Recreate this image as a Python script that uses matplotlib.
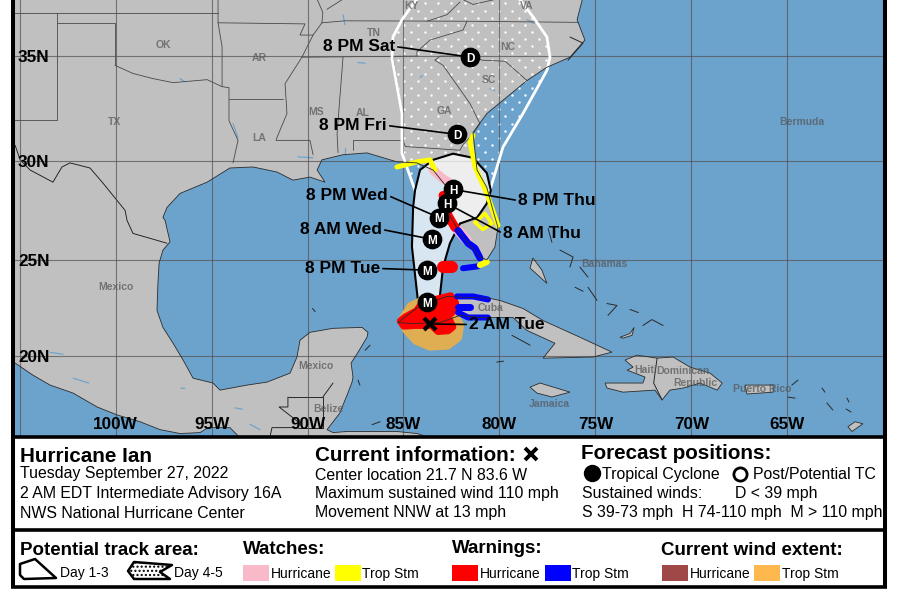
#hurricane forecast cone map with info panel below
import numpy as np
import matplotlib
matplotlib.use('Agg')
import matplotlib.pyplot as plt
from matplotlib.patches import Polygon, Rectangle

plt.rcParams['font.family'] = ['Liberation Sans', 'DejaVu Sans']

# coast outlines, (lon, lat)
mainland = [(-106, 19.3), (-105.23, 19.63), (-104.3, 18.98), (-103.41, 18.45), (-102.21, 18.02), (-100.96, 17.27),
            (-99.92, 16.84), (-98.72, 16.47), (-97.68, 16.04), (-96.64, 15.83), (-95.6, 15.88), (-95.18, 16.15),
            (-94.04, 16.15), (-93.52, 15.6), (-83.62, 15.6), (-84.3, 15.83), (-85.34, 15.94), (-86.59, 15.94),
            (-87.94, 15.94), (-88.67, 15.88), (-88.98, 16.04), (-88.31, 16.95), (-88.15, 17.38), (-87.94, 17.91),
            (-87.68, 18.61), (-87.63, 18.88), (-87.73, 19.63), (-87.37, 20.2), (-86.9, 21.0), (-86.85, 21.26),
            (-87.16, 21.52), (-88.67, 21.47), (-89.87, 21.26), (-90.39, 20.84), (-90.55, 19.95), (-90.91, 19.09),
            (-92.11, 18.61), (-93.15, 18.45), (-94.56, 18.18), (-94.92, 18.56), (-95.96, 18.82), (-96.48, 19.79),
            (-97.0, 20.68), (-97.53, 21.52), (-97.84, 22.41), (-97.79, 23.82), (-97.73, 24.87), (-97.53, 25.53),
            (-97.16, 25.95), (-97.42, 27.04), (-97.53, 27.19), (-97.32, 27.69), (-96.64, 28.39), (-95.23, 28.95),
            (-94.04, 29.65), (-92.84, 29.7), (-91.59, 29.45), (-90.76, 29.05), (-89.87, 29.2), (-89.09, 28.95),
            (-89.5, 29.55), (-89.25, 30.05), (-88.15, 30.3), (-86.9, 30.39), (-85.34, 29.95), (-84.3, 29.9),
            (-83.46, 29.55), (-82.73, 28.69), (-82.58, 28.39), (-82.73, 27.54), (-82.06, 26.38), (-81.02, 25.18),
            (-80.66, 25.03), (-80.24, 25.68), (-80.08, 26.68), (-80.34, 27.54), (-80.66, 28.69), (-81.17, 29.55),
            (-81.38, 31.38), (-80.66, 32.29), (-78.57, 33.86), (-77.53, 34.48), (-76.33, 34.95), (-75.55, 35.74),
            (-75.96, 36.67), (-75.65, 37.7), (-106, 37.7)]
cuba = [(-85.29, 21.77), (-84.14, 22.67), (-82.73, 23.14), (-80.5, 23.04), (-79.97, 22.93), (-78.77, 22.51),
        (-77.73, 21.88), (-75.81, 21.0), (-74.14, 20.21), (-75.13, 19.95), (-77.73, 19.89), (-77.11, 20.68),
        (-78.57, 21.36), (-79.3, 22.04), (-81.02, 22.04), (-82.06, 22.15), (-83.1, 21.77), (-84.5, 21.72)]
hispaniola = [(-73.46, 19.79), (-72.84, 20.05), (-71.79, 19.89), (-70.96, 19.95), (-70.07, 19.41), (-69.03, 19.09),
              (-68.4, 18.56), (-68.66, 18.18), (-69.56, 18.56), (-70.44, 18.29), (-71.12, 18.18), (-71.53, 17.65),
              (-71.9, 18.18), (-73.57, 18.07), (-74.4, 18.29), (-74.5, 18.56), (-73.57, 18.56), (-72.53, 18.56),
              (-72.42, 18.88), (-73.35, 19.25), (-73.04, 19.41)]
jamaica = [(-78.41, 18.34), (-77.89, 18.56), (-76.33, 18.07), (-77.27, 17.81), (-78.05, 18.02)]
puerto_rico = [(-67.21, 18.45), (-65.75, 18.45), (-65.75, 18.07), (-67.11, 17.97)]
andros = [(-78.26, 25.13), (-77.79, 24.5), (-77.53, 23.82), (-78.0, 24.24), (-78.41, 24.61)]
inagua = [(-73.72, 21.0), (-73.2, 21.2), (-72.99, 21.52), (-73.1, 21.1), (-73.57, 20.95)]
guadeloupe = [(-61.85, 16.2), (-61.48, 16.47), (-61.07, 16.36), (-61.64, 15.94)]
land_polys = [mainland, cuba, hispaniola, jamaica, puerto_rico, andros, inagua, guadeloupe]

small_islands = [[(-76.85, 25.53), (-76.17, 25.18), (-76.33, 24.66)], [(-75.81, 24.66), (-75.39, 24.14)],
                 [(-76.07, 23.62), (-75.65, 23.41)], [(-75.39, 23.62), (-74.92, 22.93)],
                 [(-74.4, 22.77), (-73.88, 22.67), (-74.35, 22.15)], [(-73.2, 22.46), (-72.77, 22.3)],
                 [(-72.53, 21.62), (-72.06, 21.93), (-71.48, 21.62)], [(-79.35, 21.1), (-78.41, 20.58)],
                 [(-77.47, 26.63), (-77.27, 25.93)], [(-80.14, 19.68), (-79.79, 19.73)],
                 [(-63.2, 18.29), (-63.05, 18.07)], [(-62.95, 17.49), (-62.64, 17.11)],
                 [(-61.9, 17.75), (-61.8, 17.54)], [(-61.95, 17.16), (-61.69, 17.0)],
                 [(-64.97, 17.8), (-64.6, 17.75)], [(-64.45, 18.72), (-64.77, 18.45)],
                 [(-86.64, 16.31), (-86.22, 16.47)], [(-87.37, 18.72), (-87.27, 18.45)],
                 [(-87.0, 20.31), (-86.74, 20.58)], [(-89.74, 22.51), (-89.6, 22.35)],
                 [(-76.33, 35.88), (-75.65, 35.6), (-76.43, 34.81)]]

# country borders (darker)
country_lines = [[(-105.23, 30.76), (-104.97, 30.05), (-104.45, 29.55), (-103.26, 28.95), (-102.79, 29.7),
                  (-102.37, 29.9), (-101.33, 29.65), (-100.65, 28.9), (-99.5, 27.54), (-99.4, 27.04),
                  (-99.09, 26.38), (-98.2, 26.13), (-97.32, 25.88)],
                 [(-91.02, 17.81), (-91.02, 17.27), (-91.48, 17.27), (-90.49, 16.47), (-90.49, 16.15),
                  (-91.85, 16.15), (-91.95, 15.67)],
                 [(-91.02, 17.81), (-89.2, 17.81), (-89.2, 16.15), (-90.49, 16.15)],
                 [(-89.2, 17.81), (-88.67, 18.56)],
                 [(-71.79, 19.89), (-71.97, 18.56), (-71.53, 17.65)]]

# state borders
state_lines = [[(-105.4, 36.99), (-94.66, 36.99)],
               [(-103.05, 36.99), (-103.05, 36.53), (-100.03, 36.53), (-100.03, 34.57)],
               [(-103.05, 36.53), (-103.05, 32.0), (-105.4, 32.0)],
               [(-100.03, 34.57), (-99.09, 34.19), (-98.05, 33.95), (-97.0, 33.76), (-95.23, 33.9), (-94.45, 33.57),
                (-94.09, 33.52), (-94.09, 31.95), (-93.62, 31), (-93.88, 29.9)],
               [(-94.66, 37.6), (-94.66, 36.53), (-94.45, 35.43), (-94.45, 33.57)],
               [(-94.66, 36.53), (-90.13, 36.48), (-90.39, 35.97), (-89.71, 35.97)],
               [(-89.25, 36.53), (-89.71, 35.97), (-90.29, 34.95), (-91.17, 33.71), (-91.07, 32.29), (-91.59, 31.14),
                (-91.64, 31.0), (-89.87, 31.0), (-89.71, 30.3)],
               [(-94.09, 33.0), (-91.28, 33.0)],
               [(-89.25, 36.53), (-88.05, 36.62), (-81.69, 36.6), (-75.9, 36.55)],
               [(-89.5, 37.6), (-89.2, 37), (-89.25, 36.53)], [(-88.99, 37.14), (-88.15, 37.6)],
               [(-90.29, 34.95), (-84.3, 35.0)],
               [(-81.69, 36.6), (-81.9, 36.2), (-83.62, 35.74), (-84.3, 35.2), (-84.3, 35.0)],
               [(-83.36, 34.81), (-83.1, 35.0), (-81.53, 35.0), (-80.9, 34.81), (-79.7, 34.76), (-78.57, 33.86)],
               [(-83.36, 34.81), (-82.94, 34.57), (-81.53, 32.76), (-81.02, 31.81), (-81.38, 31.33)],
               [(-85.55, 34.95), (-85.03, 32.1), (-85.03, 31), (-84.9, 30.7), (-82.06, 30.52), (-81.9, 30.8),
                (-81.38, 31.29)],
               [(-88.15, 34.95), (-88.46, 31.33), (-88.41, 30.4)],
               [(-87.63, 30.52), (-87.63, 31), (-85.03, 31)],
               [(-83.77, 36.6), (-82.73, 36.9), (-82.06, 37.47)], [(-81.95, 37.6), (-81.38, 37.36), (-79.9, 37.65)]]

# lakes and sounds
lakes = [[(-93.88, 31.81), (-93.62, 31.14)], [(-96.64, 33.95), (-96.4, 33.8)], [(-90.49, 30.2), (-89.71, 30.15)],
         [(-88.05, 30.62), (-88.05, 30.3)], [(-103.41, 20.2), (-102.73, 20.1)], [(-102.2, 18.82), (-101.4, 18.56)],
         [(-96.6, 18.29), (-96.4, 18.27)], [(-93.78, 17.22), (-93.4, 17.15)], [(-93, 16.33), (-92.47, 16.04)],
         [(-84.0, 34.1), (-84.14, 34.0)], [(-80.5, 33.48), (-80.24, 33.38)], [(-87.37, 34.7), (-87.0, 34.67)],
         [(-88.15, 36.9), (-88.05, 36.44)], [(-78.57, 36.67), (-78.2, 36.5)]]

# forecast cone, day 1-3 and outer day 4-5 edge
cone_days_1_3 = [(-84.56, 25.7), (-84.5, 27.69), (-84.4, 28.54), (-84.14, 29.55), (-83.46, 30.05), (-82.42, 30.35),
                 (-81.38, 30.15), (-80.66, 29.4), (-80.45, 28.54), (-80.66, 27.89), (-81.17, 27.18), (-82.06, 26.88),
                 (-82.58, 25.88), (-82.94, 24.66), (-83.1, 23.2), (-83.2, 21.88), (-83.73, 21.72), (-84.25, 22.93)]
cone_arc_top = [(-84.4, 28.54), (-84.14, 29.55), (-83.46, 30.05), (-82.42, 30.35), (-81.38, 30.15), (-80.66, 29.4),
                (-80.45, 28.54)]
cone_days_4_5 = [(-84.4, 28.54), (-85.08, 30.38), (-85.08, 32.29), (-85.6, 34.9), (-85.55, 35.88), (-85.08, 36.67),
                 (-84.5, 37.37), (-84.14, 37.75), (-79.1, 37.75), (-78.25, 36.8), (-77.53, 35.88), (-77.37, 34.95),
                 (-77.53, 34.33), (-78.78, 32.29), (-79.82, 30.67), (-80.5, 28.54)]

# current wind field and warning areas
wind_ts = [(-84.6, 22.6), (-83.88, 22.95), (-82.92, 22.85), (-82.42, 22.35), (-82.1, 21.62), (-82.2, 21.0),
           (-82.72, 20.6), (-83.62, 20.55), (-84.32, 20.85), (-84.82, 21.4), (-85.05, 21.88)]
warn_hu_cuba = [(-85.15, 21.85), (-84.9, 22.05), (-84.3, 22.38), (-84.02, 22.8), (-83.36, 22.96), (-82.55, 23.16),
                (-82.3, 22.8), (-82.45, 22.35), (-82.7, 22.1), (-82.45, 21.55), (-82.68, 21.36), (-83.2, 21.32),
                (-83.52, 21.64), (-84.4, 21.64), (-84.98, 21.6)]
warn_hu_fl = [(-82.94, 28.29), (-82.78, 27.69), (-82.68, 27.29), (-82.32, 26.68)]
warn_hu_tortugas = [(-82.94, 24.66), (-82.47, 24.66)]
watch_hu_north = [(-83.46, 29.55), (-82.99, 29.15), (-82.58, 28.9)]
watch_hu_south = [(-82.16, 26.53), (-81.69, 26.03)]
warn_ts_fl = [(-82.16, 26.53), (-81.64, 25.88), (-81.28, 25.63), (-81.02, 25.13)]
warn_ts_keys = [(-81.9, 24.6), (-81.12, 24.7)]
warn_ts_cuba_n = [(-82.21, 23.14), (-81.38, 23.14), (-80.6, 22.98)]
warn_ts_cuba_m = [(-82.16, 22.6), (-81.53, 22.6)]
warn_ts_cuba_s = [(-82.16, 22.3), (-81.64, 22.04), (-80.6, 22.04)]
watch_ts_keys = [(-81.02, 24.76), (-80.66, 24.92)]
watch_ts_east = [(-81.38, 31.24), (-81.53, 30.9), (-81.27, 29.7), (-80.66, 28.39), (-80.08, 26.78)]
watch_ts_west = [(-85.34, 29.7), (-84.3, 29.95), (-83.62, 30.05), (-83.36, 29.55)]
watch_ts_lake = [(-81.27, 26.93), (-80.76, 27.39), (-80.4, 26.88), (-80.87, 26.58), (-81.27, 26.93)]

# forecast track
track_lon = [-83.76, -83.76, -83.51, -83.15, -82.73, -82.42, -82.21, -81.53]
track_lat = [22.85, 24.5, 26.08, 27.18, 27.89, 28.59, 31.29, 34.95]
track_cat = ['M', 'M', 'M', 'M', 'H', 'H', 'D', 'D']
center_lon = -83.6
center_lat = 21.7

place_names = ['OK', 'AR', 'TX', 'MS', 'AL', 'LA', 'TN', 'NC', 'SC', 'GA', 'KY', 'VA', 'Mexico', 'Mexico', 'Belize',
               'Bermuda', 'Bahamas', 'Cuba', 'Haiti', 'Dominican', 'Republic', 'Puerto Rico', 'Jamaica']
place_lon = [-97.53, -92.53, -100.03, -89.56, -87.11, -92.53, -86.54, -79.55, -80.55, -82.89, -84.56, -78.57, -99.97,
             -89.56, -88.93, -64.24, -74.56, -80.45, -72.37, -70.45, -69.82, -66.33, -77.42]
place_lat = [35.56, 34.95, 31.95, 32.43, 32.38, 31.14, 36.12, 35.47, 33.95, 32.48, 37.33, 37.33, 23.67, 19.52, 17.22,
             31.95, 24.87, 22.57, 19.3, 19.25, 18.61, 18.29, 17.49]

lon_ticks = [-105, -100, -95, -90, -85, -80, -75, -70, -65, -60]
lat_ticks = [20, 25, 30, 35]

LAND = '#c0c0c0'
SEA = '#6ca3cd'
COAST = '#2b2b2b'
PINK = '#f9b9c8'
YELLOW = '#ffff00'
RED = '#ff0000'
BLUE = '#0000ff'
BROWN = '#a04848'
ORANGE = '#ffb84d'


def merc(lat):
    return np.degrees(np.log(np.tan(np.radians(45 + np.asarray(lat, dtype=float) / 2))))


def merc_inv(m):
    return 2 * np.degrees(np.arctan(np.exp(np.radians(np.asarray(m, dtype=float))))) - 90


def draw_line(points, color, px, z, cap='round'):
    xs, ys = zip(*points)
    ax.plot(xs, ys, color=color, lw=px * 0.72, solid_capstyle=cap, solid_joinstyle='round', zorder=z)


fig = plt.figure(figsize=(8.97, 6.0), dpi=100)
W, H = 897.0, 600.0

# map axes, mercator look in y
ax = fig.add_axes([13 / W, 1 - 437 / H, 872 / W, 437 / H], zorder=1)
ax.set_yscale('function', functions=(merc, merc_inv))
ax.set_xlim(-105.34, -59.92)
ax.set_ylim(15.64, 37.56)
ax.set_facecolor(SEA)
for s in ax.spines.values():
    s.set_visible(False)
ax.set_xticks(lon_ticks)
ax.set_yticks(lat_ticks)
ax.minorticks_off()
ax.tick_params(length=0, labelbottom=False, labelleft=False)
ax.set_axisbelow(False)
ax.grid(True, color='#555555', lw=0.8, alpha=0.75)

for poly in land_polys:
    ax.add_patch(Polygon(poly, closed=True, fc=LAND, ec='none', zorder=1))
for seg in lakes:
    draw_line(seg, SEA, 1.2, 1.5)

# day 4-5 stipple, clipped to the outer cone
stipple_area = Polygon(cone_days_4_5 + cone_arc_top[::-1], closed=True, transform=ax.transData, fc='none', ec='none')
ax.add_patch(stipple_area)
row_lats = merc_inv(np.arange(merc(28.0), merc(38.0), 0.4))
dot_lon, dot_lat = [], []
for i, la in enumerate(row_lats):
    for lo in np.arange(-86.0 + 0.35 * (i % 2), -76.0, 0.7):
        dot_lon.append(lo)
        dot_lat.append(la)
dots = ax.scatter(dot_lon, dot_lat, s=3.0, c='white', linewidths=0, zorder=1.7)
dots.set_clip_path(stipple_area)

for seg in state_lines:
    draw_line(seg, '#444444', 0.8, 2)
for seg in country_lines:
    draw_line(seg, '#1c1c1c', 0.9, 2)

xs, ys = zip(*cone_days_4_5)
ax.plot(xs, ys, color='white', lw=2.0, solid_joinstyle='round', zorder=3.5)

# day 1-3 cone
ax.add_patch(Polygon(cone_days_1_3, closed=True, fc='white', alpha=0.74, ec='none', zorder=4))
ax.add_patch(Polygon(cone_days_1_3, closed=True, fc='none', ec='black', lw=1.5, zorder=4.2))

ax.add_patch(Polygon(wind_ts, closed=True, fc='#dfad52', ec='#dfad52', lw=7, joinstyle='round', zorder=5))

draw_line(watch_hu_north, PINK, 9, 5.5)
draw_line(watch_hu_south, PINK, 10, 5.5)
draw_line(warn_hu_fl, RED, 9, 6)
draw_line(warn_hu_tortugas, RED, 12, 6)
ax.add_patch(Polygon(warn_hu_cuba, closed=True, fc=RED, ec=RED, lw=5.5, joinstyle='round', zorder=6))
for seg, px in [(warn_ts_fl, 7), (warn_ts_keys, 6), (warn_ts_cuba_n, 6), (warn_ts_cuba_m, 7), (warn_ts_cuba_s, 6)]:
    draw_line(seg, BLUE, px, 6)
for seg, px in [(watch_ts_keys, 6), (watch_ts_east, 5), (watch_ts_west, 5), (watch_ts_lake, 3.5)]:
    draw_line(seg, YELLOW, px, 6)

# coast drawn again on top of the warnings
for poly in land_polys:
    ax.add_patch(Polygon(poly, closed=True, fc='none', ec=COAST, lw=0.6, zorder=7))
for seg in small_islands:
    draw_line(seg, COAST, 1.0, 7)

for name, lo, la in zip(place_names, place_lon, place_lat):
    ax.text(lo, la, name, fontsize=7.5, fontweight='bold', color='#555555', alpha=0.72, ha='center',
            va='center_baseline', zorder=7.5)

# overlay in picture pixels for layout of labels and panels
ov = fig.add_axes([0, 0, 1, 1], zorder=2)
ov.set_xlim(0, W)
ov.set_ylim(H, 0)
ov.axis('off')
ov.patch.set_alpha(0)

# time labels with leader lines: (text, point index, anchor x, anchor y, side)
time_labels = [('8 PM Tue', 1, 380, 267, 'right'), ('8 AM Wed', 2, 382, 228, 'right'),
               ('8 PM Wed', 3, 388, 194, 'right'), ('8 AM Thu', 4, 503, 232, 'left'),
               ('8 PM Thu', 5, 518, 199, 'left'), ('8 PM Fri', 6, 387, 124, 'right'),
               ('8 PM Sat', 7, 395, 45, 'right')]
for label, idx, tx, ty, side in time_labels:
    ax.annotate(label, xy=(track_lon[idx], track_lat[idx]), xycoords='data', xytext=(tx, ty),
                textcoords=ov.transData, ha=side, va='center_baseline', fontsize=12.5, fontweight='bold',
                color='black', zorder=8,
                arrowprops=dict(arrowstyle='-', color='black', lw=1.2, shrinkA=0, shrinkB=0,
                                relpos=(1, 0.5) if side == 'right' else (0, 0.5)))
ax.annotate('2 AM Tue', xy=(center_lon, center_lat), xycoords='data', xytext=(469, 323), textcoords=ov.transData,
            ha='left', va='center_baseline', fontsize=12.5, fontweight='bold', color='black', zorder=8,
            arrowprops=dict(arrowstyle='-', color='black', lw=1.2, shrinkA=0, shrinkB=0, relpos=(0, 0.5)))

ax.plot(track_lon, track_lat, ls='none', marker='o', ms=13.2, mfc='black', mec='black', zorder=9)
for lo, la, cat in zip(track_lon, track_lat, track_cat):
    ax.text(lo, la, cat, color='white', fontsize=8.5, fontweight='bold', ha='center', va='center_baseline', zorder=10)
ax.plot(center_lon, center_lat, ls='none', marker='x', ms=9, mew=3, color='black', zorder=10)

# grid labels inside the map
for lo in lon_ticks[1:-1]:
    ax.text(lo, 1 - 423 / 437, '%dW' % abs(lo), transform=ax.get_xaxis_transform(), fontsize=12.3, fontweight='bold',
            ha='center', va='center_baseline', zorder=10)
for la in lat_ticks:
    ax.text(5 / 872, la, '%dN' % la, transform=ax.get_yaxis_transform(), fontsize=12.3, fontweight='bold',
            ha='left', va='center_baseline', zorder=10)

# frame of the map and panels
ov.add_patch(Rectangle((15, 438), 868, 91, fc='white', ec='none', zorder=0))
ov.add_patch(Rectangle((15, 532), 868, 54, fc='white', ec='none', zorder=0))
for x in [13, 885]:
    ov.plot([x, x], [0, 587], color='black', lw=2.9, solid_capstyle='butt')
for y in [436.5, 530, 587]:
    ov.plot([11, 887], [y, y], color='black', lw=2.6, solid_capstyle='butt')

BIG = 14.9
SUB = 13.5
BODY = 11.4
SMALL = 10.0


def panel_text(x, y, s, size=BODY, weight='normal'):
    ov.text(x, y, s, fontsize=size, fontweight=weight, ha='left', va='baseline', color='black')


panel_text(20, 462, 'Hurricane Ian', BIG, 'bold')
panel_text(20, 478, 'Tuesday September 27, 2022')
panel_text(20, 498, '2 AM EDT Intermediate Advisory 16A')
panel_text(20, 518, 'NWS National Hurricane Center')

panel_text(315, 461, 'Current information:', BIG, 'bold')
ov.plot(531, 454, marker='x', ms=8.5, mew=2.8, color='black', ls='none')
panel_text(315, 480, 'Center location 21.7 N 83.6 W')
panel_text(315, 498, 'Maximum sustained wind 110 mph')
panel_text(315, 517, 'Movement NNW at 13 mph')

panel_text(581, 459, 'Forecast positions:', BIG, 'bold')
ov.plot(592, 473, marker='o', ms=11.5, mfc='black', mec='black', ls='none')
panel_text(602, 479, 'Tropical Cyclone')
ov.plot(740, 474, marker='o', ms=9.5, mfc='white', mec='black', mew=2, ls='none')
panel_text(753, 479, 'Post/Potential TC')
panel_text(582, 498, 'Sustained winds:')
panel_text(735, 498, 'D < 39 mph')
panel_text(582, 517, 'S 39-73 mph  H 74-110 mph  M > 110 mph')

panel_text(20, 555, 'Potential track area:', SUB, 'bold')
panel_text(243, 554, 'Watches:', SUB, 'bold')
panel_text(452, 553, 'Warnings:', SUB, 'bold')
panel_text(661, 555, 'Current wind extent:', SUB, 'bold')

# legend icons
icon_1_3 = [(20, 564), (35, 559), (56, 578), (24, 579), (20, 575)]
icon_4_5 = [(128, 571), (134, 562), (172, 565), (160, 572), (170, 579), (134, 579)]
ov.add_patch(Polygon(icon_1_3, closed=True, fc='white', ec='black', lw=1.8, joinstyle='round'))
ov.add_patch(Polygon(icon_4_5, closed=True, fc='white', ec='black', lw=1.8, joinstyle='round'))
ov.add_patch(Polygon(icon_4_5, closed=True, fc='none', ec='black', lw=0, hatch='....'))
panel_text(60, 577, 'Day 1-3', SMALL)
panel_text(174, 577, 'Day 4-5', SMALL)

swatches = [(243, PINK, 'Hurricane'), (335, YELLOW, 'Trop Stm'), (452, RED, 'Hurricane'), (545, BLUE, 'Trop Stm'),
            (662, BROWN, 'Hurricane'), (754, ORANGE, 'Trop Stm')]
for x, col, lab in swatches:
    ov.add_patch(Rectangle((x, 565), 25.5, 16, fc=col, ec='none'))
    panel_text(x + 27.5, 578, lab, SMALL)

fig.savefig('out.png', dpi=100)
